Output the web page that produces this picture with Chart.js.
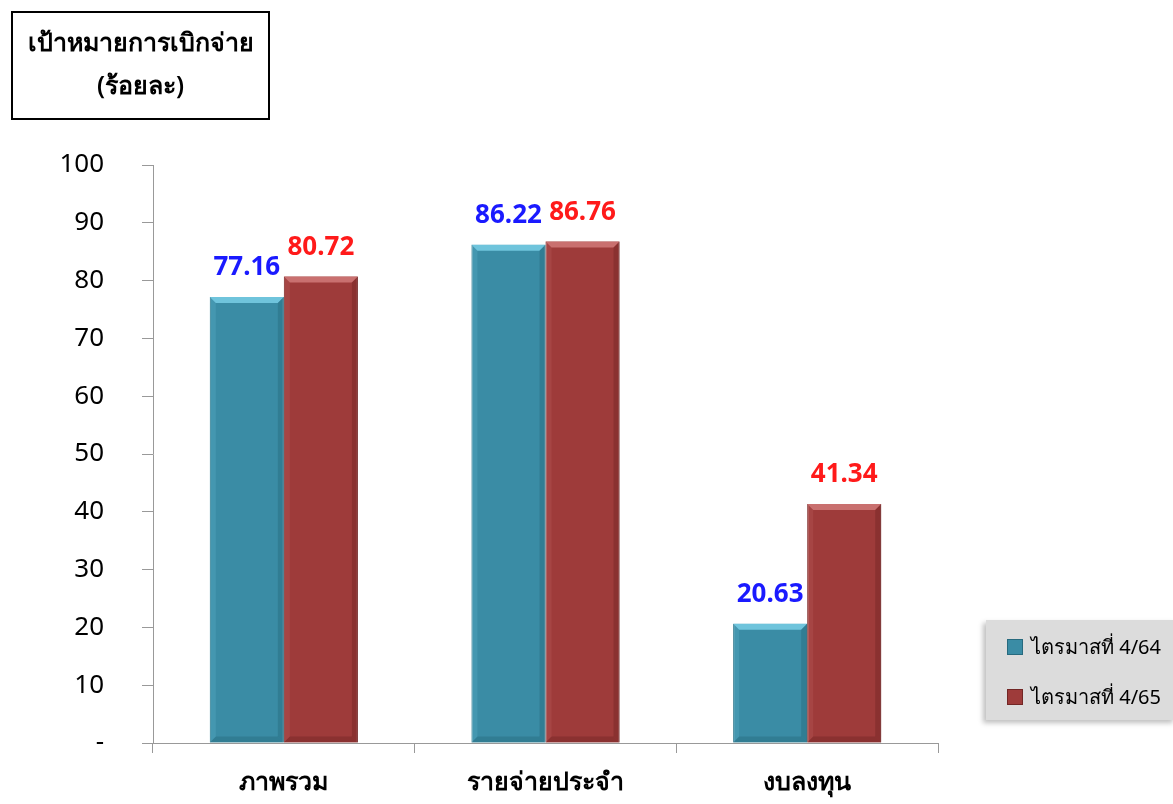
<!DOCTYPE html>
<html>
<head>
<meta charset="utf-8">
<script src="https://cdn.jsdelivr.net/npm/chart.js@4.4.1/dist/chart.umd.min.js"></script>
<style>
  html, body { margin: 0; padding: 0; background: #fff; }
  body { width: 1173px; height: 804px; position: relative; overflow: hidden; font-family: 'Noto Sans', Tahoma, sans-serif; }
  #wrap { position: absolute; left: 0; top: 0; width: 1173px; height: 804px; }
  .title-box {
    position: absolute; left: 11px; top: 11px; width: 255px; height: 98px;
    border: 2px solid #000; text-align: center; font-size: 25px; font-weight: 600; line-height: 43px;
    padding-top: 7px; box-sizing: content-box; color: #000;
  }
  .legend {
    position: absolute; left: 986px; top: 620px; width: 190px; height: 100px;
    background: #dcdcdc; box-shadow: -3px 3px 5px rgba(0,0,0,0.25);
  }
  .legend div { position: absolute; left: 21px; font-size: 20px; color: #000; white-space: nowrap; }
  .legend span.sw { display: inline-block; width: 14px; height: 14px; margin-right: 8px; vertical-align: -1px; }
</style>
</head>
<body>
<div id="wrap"><canvas id="c" width="1173" height="804"></canvas></div>
<div class="title-box">เป้าหมายการเบิกจ่าย<br>(ร้อยละ)</div>
<div class="legend" id="legend"></div>
<script>
/* ======== Data ======== */
const categories = ['ภาพรวม', 'รายจ่ายประจำ', 'งบลงทุน'];
const seriesNames = ['ไตรมาสที่ 4/64', 'ไตรมาสที่ 4/65'];
const q464 = [77.16, 86.22, 20.63];
const q465 = [80.72, 86.76, 41.34];
const yTicks = [0, 10, 20, 30, 40, 50, 60, 70, 80, 90, 100];

const COL = {
    teal: '#3a8ca5', tealLight: '#6fc4dc', tealDark: '#276a7e',
    red: '#9e3b3a', redLight: '#c9706f', redDark: '#722625'
};
const labelColors = ['#1a1aff', '#ff1a1a'];

/* ======== Bevel + value labels ======== */
const bevelPlugin = {
    id: 'bevel',
    afterDatasetsDraw(chart) {
        const ctx = chart.ctx;
        chart.data.datasets.forEach((ds, di) => {
            const meta = chart.getDatasetMeta(di);
            const light = di === 0 ? COL.tealLight : COL.redLight;
            const dark = di === 0 ? COL.tealDark : COL.redDark;
            meta.data.forEach((bar, i) => {
                const l = bar.x - bar.width / 2, r = bar.x + bar.width / 2;
                const t = bar.y, b = bar.base, e = 6;
                ctx.save();
                ctx.fillStyle = light;
                ctx.beginPath();
                ctx.moveTo(l, t); ctx.lineTo(r, t); ctx.lineTo(r - e, t + e); ctx.lineTo(l + e, t + e);
                ctx.closePath(); ctx.fill();
                ctx.globalAlpha = 0.45;
                ctx.fillStyle = dark;
                ctx.beginPath();
                ctx.moveTo(r, t); ctx.lineTo(r, b); ctx.lineTo(r - e, b - e); ctx.lineTo(r - e, t + e);
                ctx.closePath(); ctx.fill();
                ctx.beginPath();
                ctx.moveTo(l, b); ctx.lineTo(r, b); ctx.lineTo(r - e, b - e); ctx.lineTo(l + e, b - e);
                ctx.closePath(); ctx.fill();
                ctx.globalAlpha = 0.2;
                ctx.fillStyle = light;
                ctx.beginPath();
                ctx.moveTo(l, t); ctx.lineTo(l + e, t + e); ctx.lineTo(l + e, b - e); ctx.lineTo(l, b);
                ctx.closePath(); ctx.fill();
                ctx.restore();

                ctx.save();
                ctx.font = "bold 26px 'Noto Sans', Tahoma, sans-serif";
                ctx.fillStyle = labelColors[di];
                ctx.textAlign = 'center';
                ctx.textBaseline = 'middle';
                ctx.fillText(ds.data[i].toFixed(2), bar.x, bar.y - 29);
                ctx.restore();
            });
        });
    }
};

const ctx = document.getElementById('c');
const chart = new Chart(ctx, {
    type: 'bar',
    data: {
        labels: categories,
        datasets: [
            { label: seriesNames[0], data: q464, backgroundColor: COL.teal, borderColor: COL.tealDark, borderWidth: 1 },
            { label: seriesNames[1], data: q465, backgroundColor: COL.red, borderColor: COL.redDark, borderWidth: 1 }
        ]
    },
    options: {
        responsive: false,
        animation: false,
        devicePixelRatio: 1,
        categoryPercentage: 0.566,
        barPercentage: 1,
        layout: { padding: { left: 0, right: 235, top: 165, bottom: 0 } },
        plugins: { legend: { display: false }, tooltip: { enabled: false } },
        scales: {
            x: {
                grid: { drawOnChartArea: false, tickLength: 10, color: '#999', offset: true },
                border: { color: '#999' },
                ticks: { color: '#000', font: { size: 25, weight: '600', family: "'Noto Sans', Tahoma, sans-serif" }, padding: 15 },
                afterFit(s) { s.height = 61; }
            },
            y: {
                min: 0, max: 100,
                afterBuildTicks(s) { s.ticks = yTicks.map(v => ({ value: v })); },
                grid: { drawOnChartArea: false, tickLength: 11, color: '#999' },
                border: { color: '#999' },
                ticks: {
                    color: '#000', padding: 38,
                    font: { size: 26, family: "'Noto Sans', Tahoma, sans-serif" },
                    callback: v => v === 0 ? '-' : v
                },
                afterFit(s) { s.width = 153; }
            }
        }
    },
    plugins: [bevelPlugin]
});

/* ======== Legend ======== */
const lg = document.getElementById('legend');
[COL.teal, COL.red].forEach((c, i) => {
    const d = document.createElement('div');
    d.style.top = (i === 0 ? 11 : 61) + 'px';
    d.innerHTML = '<span class="sw" style="background:' + c + ';border:1px solid ' + (i ? COL.redDark : COL.tealDark) + '"></span>' + seriesNames[i];
    lg.appendChild(d);
});
</script>
</body>
</html>
